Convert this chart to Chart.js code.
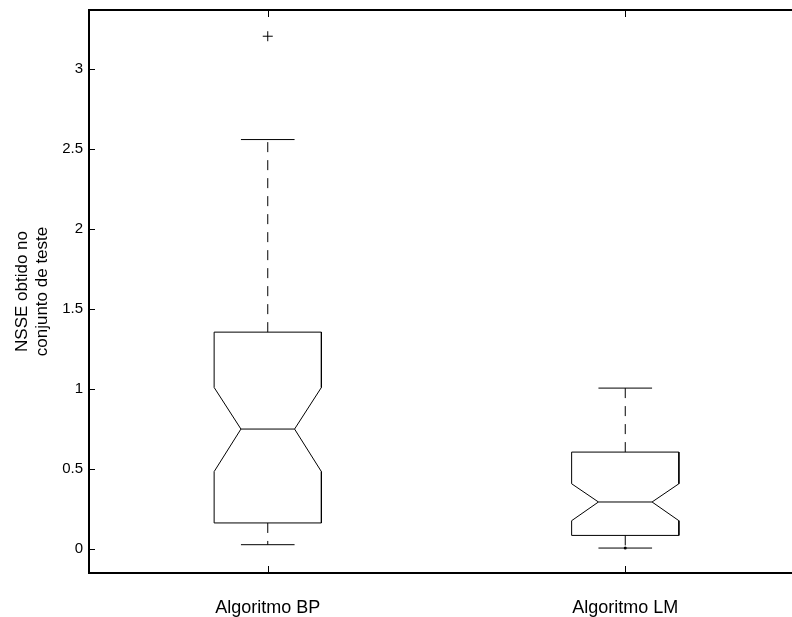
<!DOCTYPE html>
<html>
<head>
<meta charset="utf-8">
<script src="https://cdn.jsdelivr.net/npm/chart.js@4"></script>
<style>
  html, body { margin: 0; padding: 0; background: #fff; overflow: hidden; }
  canvas { display: block; }
</style>
</head>
<body>
<canvas id="boxChart" width="812" height="617" style="width:812px;height:617px"></canvas>
<script>
// Box statistics (NSSE on the test set)
const categories = ['Algoritmo BP', 'Algoritmo LM'];
const q1 = [0.163, 0.085];
const median = [0.75, 0.294];
const q3 = [1.356, 0.606];
const notchLow = [0.484, 0.177];
const notchHigh = [1.01, 0.408];
const whiskerLow = [0.027, 0.006];
const whiskerHigh = [2.56, 1.006];
const outliers = [[3.206], []];
const lowDots = [[], [0.006]];
const yTicks = [0, 0.5, 1, 1.5, 2, 2.5, 3];

const BOX_W = 0.15;     // half width of the box (x units)
const CAP_W = 0.075;    // half width of whisker caps / notch waist
const LINE = '#000';

function seg(points, extra) {
  return Object.assign({
    type: 'line',
    data: points,
    borderColor: LINE,
    borderWidth: 1,
    pointRadius: 0,
    fill: false,
    tension: 0
  }, extra || {});
}

const datasets = [];
categories.forEach((cat, i) => {
  const c = i + 1;
  // notched box outline
  datasets.push(seg([
    { x: c - BOX_W, y: q1[i] },
    { x: c - BOX_W, y: notchLow[i] },
    { x: c - CAP_W, y: median[i] },
    { x: c - BOX_W, y: notchHigh[i] },
    { x: c - BOX_W, y: q3[i] },
    { x: c + BOX_W, y: q3[i] },
    { x: c + BOX_W, y: notchHigh[i] },
    { x: c + CAP_W, y: median[i] },
    { x: c + BOX_W, y: notchLow[i] },
    { x: c + BOX_W, y: q1[i] },
    { x: c - BOX_W, y: q1[i] }
  ]));
  // median
  datasets.push(seg([{ x: c - CAP_W, y: median[i] }, { x: c + CAP_W, y: median[i] }]));
  // whiskers (dashed)
  datasets.push(seg([{ x: c, y: q3[i] }, { x: c, y: whiskerHigh[i] }], { borderDash: [10, 8] }));
  datasets.push(seg([{ x: c, y: q1[i] }, { x: c, y: whiskerLow[i] }], { borderDash: [10, 8] }));
  // caps
  datasets.push(seg([{ x: c - CAP_W, y: whiskerHigh[i] }, { x: c + CAP_W, y: whiskerHigh[i] }]));
  datasets.push(seg([{ x: c - CAP_W, y: whiskerLow[i] }, { x: c + CAP_W, y: whiskerLow[i] }]));
  // outliers
  if (outliers[i].length) {
    datasets.push({
      type: 'scatter',
      data: outliers[i].map(v => ({ x: c, y: v })),
      pointStyle: 'cross',
      pointRadius: 5,
      borderColor: LINE,
      borderWidth: 1
    });
  }
  if (lowDots[i].length) {
    datasets.push({
      type: 'scatter',
      data: lowDots[i].map(v => ({ x: c, y: v })),
      pointStyle: 'circle',
      pointRadius: 1.5,
      backgroundColor: LINE,
      borderWidth: 0
    });
  }
});

// axis box and inward tick marks, matlab style
const frame = {
  id: 'frame',
  afterDraw(chart) {
    const { ctx, chartArea: a, scales } = chart;
    ctx.save();
    ctx.strokeStyle = '#000';
    ctx.lineWidth = 1;
    ctx.beginPath();
    yTicks.forEach(v => {
      const py = Math.round(scales.y.getPixelForValue(v)) + 0.5;
      ctx.moveTo(a.left, py); ctx.lineTo(a.left + 6, py);
      ctx.moveTo(a.right, py); ctx.lineTo(a.right - 6, py);
    });
    categories.forEach((cat, i) => {
      const px = Math.round(scales.x.getPixelForValue(i + 1)) + 0.5;
      ctx.moveTo(px, a.top); ctx.lineTo(px, a.top + 7);
      ctx.moveTo(px, a.bottom); ctx.lineTo(px, a.bottom - 7);
    });
    ctx.stroke();
    ctx.lineWidth = 2;
    ctx.strokeRect(a.left, a.top, a.right - a.left, a.bottom - a.top);
    ctx.restore();
  }
};

new Chart(document.getElementById('boxChart'), {
  type: 'scatter',
  data: { datasets },
  plugins: [frame],
  options: {
    responsive: false,
    animation: false,
    events: [],
    layout: { padding: { top: 10, right: 8, left: 0, bottom: 0 } },
    plugins: { legend: { display: false }, tooltip: { enabled: false } },
    scales: {
      x: {
        type: 'linear',
        min: 0.5,
        max: 2.5,
        grid: { display: false, drawTicks: false },
        border: { display: false },
        afterBuildTicks: s => { s.ticks = categories.map((c, i) => ({ value: i + 1 })); },
        afterFit: s => { s.height = 44; s.paddingLeft = 0; s.paddingRight = 0; },
        ticks: {
          autoSkip: false,
          maxRotation: 0,
          padding: 24,
          color: '#000',
          font: { family: 'Liberation Sans', size: 18 },
          callback: v => categories[v - 1]
        }
      },
      y: {
        min: -0.15,
        max: 3.37,
        grid: { display: false, drawTicks: false },
        border: { display: false },
        afterBuildTicks: s => { s.ticks = yTicks.map(v => ({ value: v })); },
        afterFit: s => { s.width = 89; s.paddingTop = 0; s.paddingBottom = 0; },
        ticks: {
          padding: 6,
          color: '#000',
          font: { family: 'Liberation Sans', size: 15 },
          callback: v => String(v)
        },
        title: {
          display: true,
          text: ['NSSE obtido no', 'conjunto de teste'],
          color: '#000',
          padding: { top: 12, bottom: 0 },
          font: { family: 'Liberation Sans', size: 17 }
        }
      }
    }
  }
});
</script>
</body>
</html>
